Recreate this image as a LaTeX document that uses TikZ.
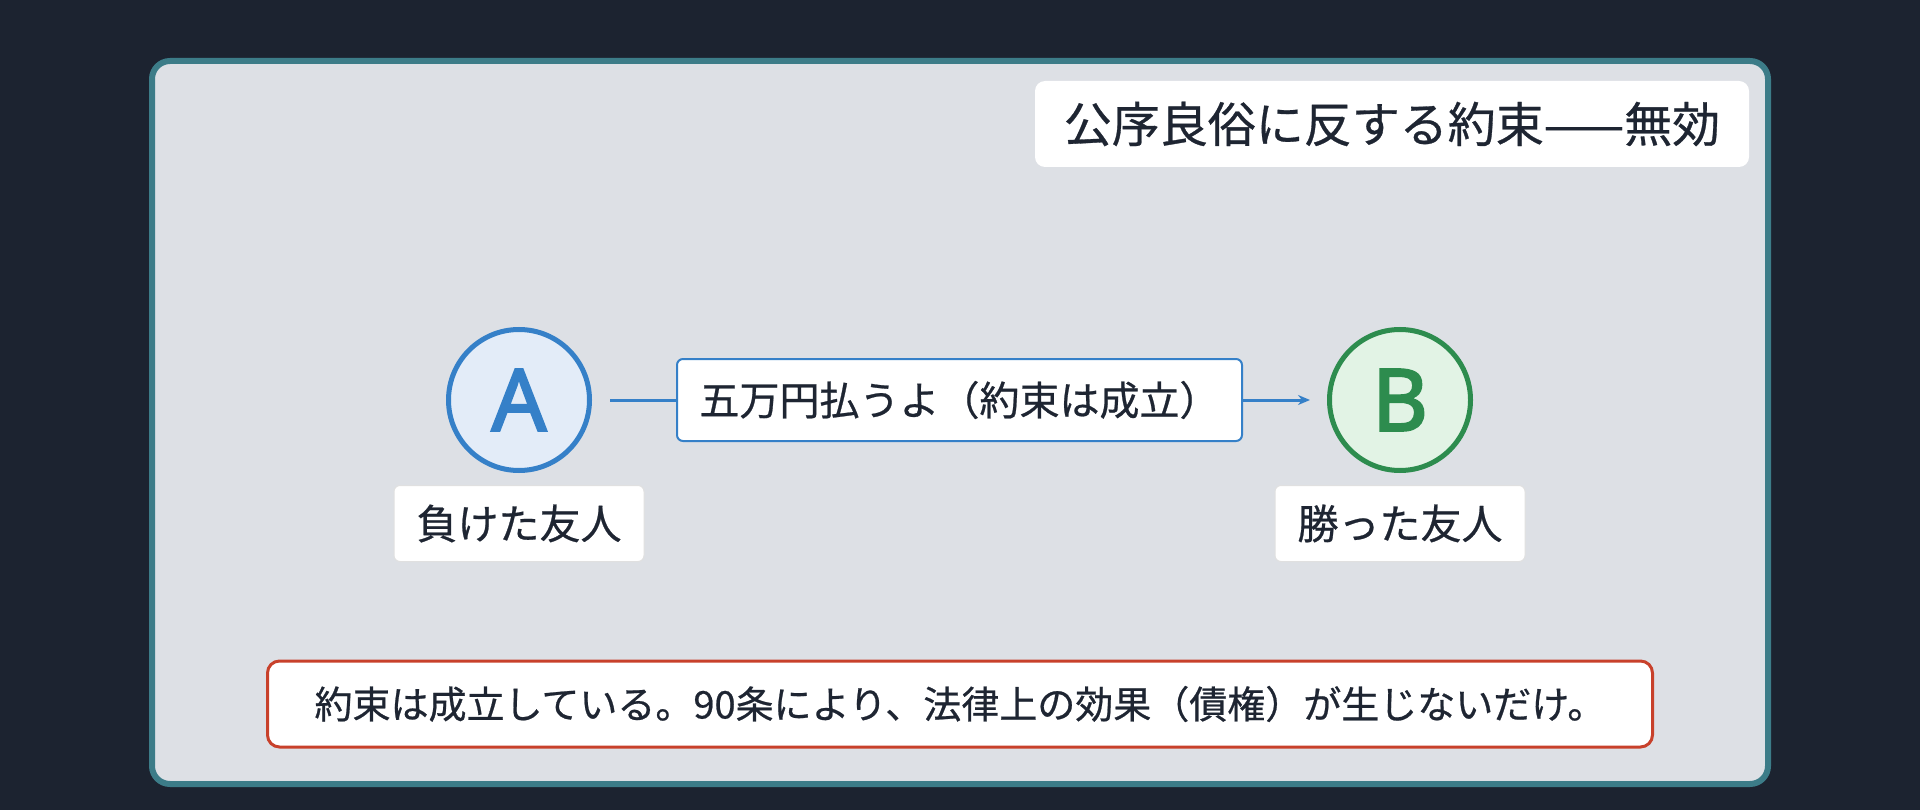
\documentclass[tikz,border=0pt]{standalone}
\usepackage{fontspec}
\setmainfont{Noto Sans CJK JP}[FakeBold=0.6]
\newfontfamily\letterfont{Noto Sans}[FakeBold=2.6]
\usepackage{xcolor}
\usetikzlibrary{positioning,arrows.meta}

\definecolor{bgdark}{HTML}{1C2330}
\definecolor{panelgray}{HTML}{DDE0E5}
\definecolor{panelteal}{HTML}{3C7C88}
\definecolor{inkdark}{HTML}{1E2532}
\definecolor{ablue}{HTML}{3580C8}
\definecolor{afill}{HTML}{E3ECF8}
\definecolor{bgreen}{HTML}{2D8C4E}
\definecolor{bfill}{HTML}{E2F3E5}
\definecolor{warnred}{HTML}{C8412B}

\begin{document}
\begin{tikzpicture}[x=1pt,y=-1pt,
    person/.style={circle, line width=5pt, minimum size=141pt, inner sep=0pt,
        font=\letterfont\fontsize{86}{86}\selectfont},
    namebox/.style={rectangle, rounded corners=6pt, fill=white, draw=black!12,
        line width=1pt, minimum width=250pt, minimum height=76pt,
        text=inkdark, font=\fontsize{41}{41}\selectfont},
    saybox/.style={rectangle, rounded corners=6pt, fill=white, draw=ablue,
        line width=2pt, minimum width=565pt, minimum height=82pt,
        text=inkdark, font=\fontsize{40}{40}\selectfont},
    flow/.style={draw=ablue, line width=3pt, -{Stealth[length=12pt,width=10pt]},
        shorten <=18pt, shorten >=17pt}]
    % Background and panel
    \fill[bgdark] (0,0) rectangle (1920,810);
    \draw[panelteal, fill=panelgray, line width=6pt, rounded corners=18pt] (152,61) rectangle (1768,784);

    % Title
    \node[rectangle, rounded corners=10pt, fill=white, minimum width=714pt, minimum height=86pt,
        text=inkdark, font=\fontsize{48}{48}\selectfont] (title) at (1392,124) {公序良俗に反する約束——無効};

    % Parties
    \node[person, draw=ablue, fill=afill, text=ablue] (A) at (519,400) {A};
    \node[person, draw=bgreen, fill=bfill, text=bgreen] (B) at (1400,400) {B};
    \node[namebox, below=12pt of A] (loser) {負けた友人};
    \node[namebox, below=12pt of B] (winner) {勝った友人};

    % Promise
    \draw[flow] (A) -- node[saybox] (promise) {五万円払うよ（約束は成立）} (B);

    % Note
    \node[rectangle, rounded corners=12pt, fill=white, draw=warnred, line width=3pt,
        minimum width=1385pt, minimum height=86pt, text=inkdark,
        font=\fontsize{38}{38}\selectfont] (note) at (960,704)
        {約束は成立している。90条により、法律上の効果（債権）が生じないだけ。};
\end{tikzpicture}
\end{document}
